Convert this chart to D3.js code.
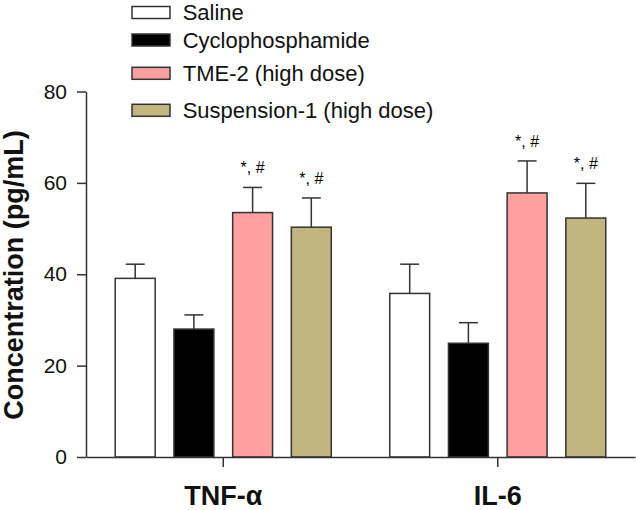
<!DOCTYPE html>
<html><head><meta charset="utf-8">
<script src="https://cdn.jsdelivr.net/npm/d3@7"></script>
<style>body{margin:0;background:#fff}svg{display:block}</style>
</head><body>
<svg id="c" width="636" height="510"></svg>
<script>
const groups = ["TNF-α", "IL-6"];
const series = ["Saline", "Cyclophosphamide", "TME-2 (high dose)", "Suspension-1 (high dose)"];
const salineMean = [39.1, 35.8];
const cycloMean = [28.0, 24.9];
const tmeMean = [53.5, 57.8];
const suspMean = [50.3, 52.3];
const salineErr = [3.1, 6.4];
const cycloErr = [3.1, 4.5];
const tmeErr = [5.5, 7.0];
const suspErr = [6.4, 7.6];
const sigLabels = ["", "", "*, #", "*, #"];
const yTicks = [0, 20, 40, 60, 80];

const means = [salineMean, cycloMean, tmeMean, suspMean];
const errs = [salineErr, cycloErr, tmeErr, suspErr];
const colors = ["#ffffff", "#000000", "#ffa0a0", "#c0b67e"];
const legendY = [12.5, 40, 73.3, 110.3];

const svg = d3.select("#c");
const font = "'Liberation Sans', Arial, sans-serif";
const ink = "#333";

const y = d3.scaleLinear().domain([0, 80]).range([457, 91.5]);
const x0 = d3.scaleBand().domain(groups).range([86, 635]);
const x1 = d3.scaleBand().domain(series).range([19.85, 254.65]).paddingInner(0.32).paddingOuter(0.16);

const data = [];
groups.forEach((g, gi) => series.forEach((s, si) => data.push({g, s, si, v: means[si][gi], e: errs[si][gi], lab: sigLabels[si]})));

// bars
svg.append("g").selectAll("rect").data(data).join("rect")
  .attr("x", d => x0(d.g) + x1(d.s))
  .attr("y", d => y(d.v))
  .attr("width", x1.bandwidth())
  .attr("height", d => y(0) - y(d.v))
  .attr("fill", d => colors[d.si])
  .attr("stroke", ink).attr("stroke-width", 1.5);

// error bars
const eg = svg.append("g").attr("stroke", ink).attr("stroke-width", 1.5);
data.forEach(d => {
  const cx = x0(d.g) + x1(d.s) + x1.bandwidth() / 2;
  eg.append("line").attr("x1", cx).attr("x2", cx).attr("y1", y(d.v)).attr("y2", y(d.v + d.e));
  eg.append("line").attr("x1", cx - 9.5).attr("x2", cx + 9.5).attr("y1", y(d.v + d.e)).attr("y2", y(d.v + d.e));
});

// significance labels
svg.append("g").selectAll("text").data(data.filter(d => d.lab)).join("text")
  .attr("x", d => x0(d.g) + x1(d.s) + x1.bandwidth() / 2)
  .attr("y", d => y(d.v + d.e) - 14)
  .attr("text-anchor", "middle")
  .attr("font-family", font).attr("font-size", 16).attr("fill", "#000")
  .text(d => d.lab);

// y axis
const ya = svg.append("g").attr("transform", "translate(86,0)")
  .call(d3.axisLeft(y).tickValues(yTicks).tickSize(9).tickSizeOuter(0).tickPadding(10).tickFormat(d3.format("d")));
ya.select(".domain").attr("stroke", ink).attr("stroke-width", 1.5);
ya.selectAll(".tick line").attr("stroke", ink).attr("stroke-width", 1.5);
ya.selectAll(".tick text").attr("font-family", font).attr("font-size", 21).attr("fill", "#111");

// x axis
const xa = svg.append("g").attr("transform", "translate(0,457)")
  .call(d3.axisBottom(x0).tickSize(10).tickSizeOuter(0).tickPadding(19));
xa.select(".domain").attr("stroke", ink).attr("stroke-width", 1.5);
xa.selectAll(".tick line").attr("stroke", ink).attr("stroke-width", 1.5);
xa.selectAll(".tick text").attr("font-family", font).attr("font-size", 27).attr("font-weight", "bold").attr("fill", "#111");

// y label
svg.append("text")
  .attr("transform", "translate(23,275) rotate(-90)")
  .attr("text-anchor", "middle")
  .attr("font-family", font).attr("font-size", 27).attr("font-weight", "bold").attr("fill", "#111")
  .text("Concentration (pg/mL)");

// legend
const lg = svg.append("g");
series.forEach((s, i) => {
  lg.append("rect").attr("x", 132).attr("y", legendY[i] - 6).attr("width", 38).attr("height", 12)
    .attr("fill", colors[i]).attr("stroke", ink).attr("stroke-width", 1.5);
  lg.append("text").attr("x", 182.7).attr("y", legendY[i] + 7.5)
    .attr("font-family", font).attr("font-size", 22).attr("fill", "#111").text(s);
});
</script>
</body></html>
